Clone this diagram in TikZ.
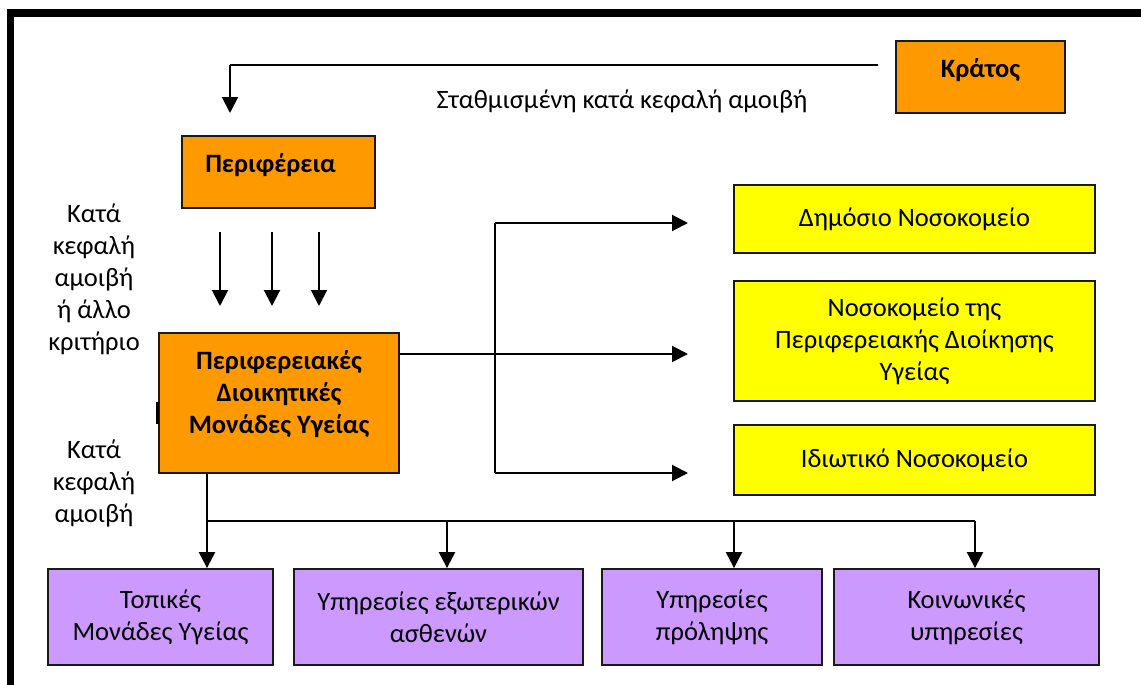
\documentclass[tikz,border=0pt]{standalone}
\usepackage{fontspec}
\setmainfont{Carlito}
\usetikzlibrary{arrows.meta}
\definecolor{orangebox}{HTML}{FF9900}
\definecolor{yellowbox}{HTML}{FFFF00}
\definecolor{purplebox}{HTML}{CC99FF}
\definecolor{edge}{HTML}{1A1A1A}
\tikzset{
  box/.style={draw=edge,line width=1.8pt,rectangle,inner sep=0pt,align=center,
    font=\fontsize{26.5}{32}\selectfont},
  obox/.style={box,fill=orangebox,font=\fontsize{26.5}{32}\selectfont\bfseries},
  ybox/.style={box,fill=yellowbox},
  pbox/.style={box,fill=purplebox},
  conn/.style={line width=1.6pt,black},
  arr/.style={line width=2pt,black,-{Triangle[length=16pt,width=16pt]}},
  lbl/.style={align=center,inner sep=0pt,font=\fontsize{26.5}{32}\selectfont},
}
\begin{document}
\begin{tikzpicture}[x=1pt,y=-1pt]
\useasboundingbox (0,0) rectangle (1141,685);
\fill[white] (0,0) rectangle (1141,685);
% frame
\draw[line width=7.5pt] (10.5,685) -- (10.5,12.8) -- (1141,12.8);

% nodes
\node[obox,minimum width=169pt,minimum height=72pt,text depth=18pt] (kratos) at (980.5,77) {Κράτος};
\node[obox,minimum width=193pt,minimum height=72pt,text depth=18pt] (perif) at (278.5,172) {\hspace*{-16pt}Περιφέρεια};
\node[obox,minimum width=240pt,minimum height=140pt,text depth=22pt] (pdmy) at (279,403)
  {Περιφερειακές\\Διοικητικές\\Μονάδες Υγείας};

\node[ybox,minimum width=361pt,minimum height=68pt] (y1) at (914.5,219) {Δημόσιο Νοσοκομείο};
\node[ybox,minimum width=361pt,minimum height=120pt] (y2) at (914.5,341)
  {Νοσοκομείο της\\Περιφερειακής Διοίκησης\\Υγείας};
\node[ybox,minimum width=361pt,minimum height=70pt] (y3) at (914.5,460) {Ιδιωτικό Νοσοκομείο};

\node[pbox,minimum width=225pt,minimum height=96pt] (p1) at (160.5,617) {Τοπικές\\Μονάδες Υγείας};
\node[pbox,minimum width=289pt,minimum height=96pt] (p2) at (438.5,617) {Υπηρεσίες εξωτερικών\\ασθενών};
\node[pbox,minimum width=220pt,minimum height=96pt] (p3) at (712,617) {Υπηρεσίες\\πρόληψης};
\node[pbox,minimum width=265pt,minimum height=96pt] (p4) at (966.5,617) {Κοινωνικές\\υπηρεσίες};

% labels
\node[lbl] (lsta) at (622,101) {Σταθμισμένη κατά κεφαλή αμοιβή};
\node[lbl] (lleft1) at (94,279) {Κατά\\κεφαλή\\αμοιβή\\ή άλλο\\κριτήριο};
\node[lbl] (lleft2) at (94,483) {Κατά\\κεφαλή\\αμοιβή};

% top connector
\coordinate (k0) at (878,65);
\coordinate (k1) at (230,65);
\coordinate (k2) at (230,113);
\draw[conn] (k0) -- (k1);
\draw[arr] (k1) -- (k2);

% three down arrows
\foreach \i/\x in {a/220,b/272,c/319}{
  \coordinate (d\i0) at (\x,232);
  \coordinate (d\i1) at (\x,306);
  \draw[arr] (d\i0) -- (d\i1);
}

% right connectors
\coordinate (s0) at (495,354);
\coordinate (s1) at (495,223);
\coordinate (s3) at (495,473);
\coordinate (t1) at (688,223);
\coordinate (t2) at (688,354);
\coordinate (t3) at (688,473);
\draw[conn] (pdmy.east |- s0) -- (s0);
\draw[conn] (s1) -- (s3);
\draw[arr] (s1) -- (t1);
\draw[arr] (s0) -- (t2);
\draw[arr] (s3) -- (t3);

% bottom bus
\coordinate (j1) at (207,521);
\coordinate (j2) at (447,521);
\coordinate (j3) at (734,521);
\coordinate (j4) at (975,521);
\draw[conn] (pdmy.south -| j1) -- (j1);
\draw[conn] (j1) -- (j4);
\draw[arr] (j1) -- (j1 |- p1.north);
\draw[arr] (j2) -- (j2 |- p2.north);
\draw[arr] (j3) -- (j3 |- p3.north);
\draw[arr] (j4) -- (j4 |- p4.north);

% small tick at left of central box
\draw[line width=2.5pt] (157.5,402) -- (157.5,424);
\end{tikzpicture}
\end{document}
